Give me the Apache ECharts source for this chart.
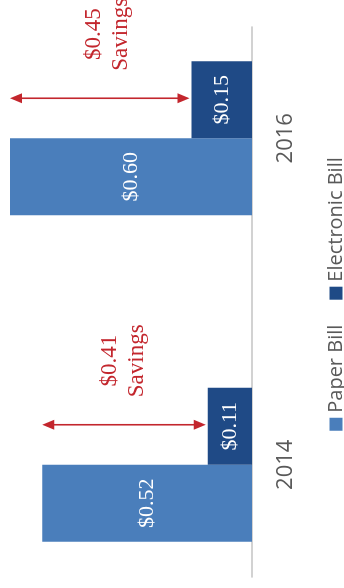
<!DOCTYPE html>
<html>
<head>
<meta charset="utf-8">
<script src="https://cdn.jsdelivr.net/npm/echarts@6/dist/echarts.min.js"></script>
<style>
  html, body { margin: 0; padding: 0; background: #fff; overflow: hidden; }
  #frame { position: relative; width: 344px; height: 588px; overflow: hidden; }
  /* The chart is laid out landscape and turned a quarter turn counter-clockwise */
  #chart {
    position: absolute; left: 0; top: 0;
    width: 588px; height: 344px;
    transform-origin: 0 0;
    transform: translateY(588px) rotate(-90deg);
  }
</style>
</head>
<body>
<div id="frame"><div id="chart"></div></div>
<script>
// Cost per bill, by year
const categories = ['2014', '2016'];
const paperBill = [0.52, 0.60];
const electronicBill = [0.11, 0.15];
const seriesNames = ['Paper Bill', 'Electronic Bill'];

const BAR_W = 77;
const RED = '#c3262d';
const SERIF = '"Liberation Serif", "DejaVu Serif", serif';
const SANS = '"Open Sans", "Noto Sans", sans-serif';

// Savings arrows: from the electronic cost up to the paper cost
const savings = categories.map((c, i) => [i, electronicBill[i], paperBill[i]]);

function money(v) { return '$' + Number(v).toFixed(2); }

function renderSavings(params, api) {
  const idx = api.value(0), lo = api.value(1), hi = api.value(2);
  const p0 = api.coord([idx, lo]);
  const p1 = api.coord([idx, hi]);
  const x = p0[0] + BAR_W / 2 + 1.5;
  const yBottom = p0[1] - 2;
  const yTop = p1[1];
  const head = 12, half = 5;
  return {
    type: 'group',
    children: [
      { type: 'line', shape: { x1: x, y1: yTop + head - 1, x2: x, y2: yBottom - head + 1 },
        style: { stroke: RED, lineWidth: 1.6 } },
      { type: 'polygon', shape: { points: [[x, yTop], [x - half, yTop + head], [x + half, yTop + head]] },
        style: { fill: RED } },
      { type: 'polygon', shape: { points: [[x, yBottom], [x - half, yBottom - head], [x + half, yBottom - head]] },
        style: { fill: RED } },
      { type: 'text',
        x: x + 64, y: p0[1] - 84,
        style: { text: money(hi - lo) + '\nSavings', align: 'center', verticalAlign: 'middle',
                 fill: RED, fontSize: 23, lineHeight: 27, fontFamily: SERIF } }
    ]
  };
}

const barLabel = {
  show: true, position: 'inside', color: '#ffffff',
  fontFamily: SERIF, fontSize: 22,
  formatter: p => money(p.value)
};

const chart = echarts.init(document.getElementById('chart'), null, { renderer: 'canvas' });
chart.setOption({
  animation: false,
  backgroundColor: '#ffffff',
  legend: {
    data: seriesNames,
    left: 'center', top: 326, padding: 0,
    icon: 'rect', itemWidth: 13, itemHeight: 13, itemGap: 25,
    textStyle: { color: '#595959', fontSize: 20, fontFamily: SANS }
  },
  grid: [
    { left: -40, width: 653, top: 10, bottom: 92, outerBoundsMode: 'none', containLabel: false },
    { left: 11, width: 550, top: 10, bottom: 92, outerBoundsMode: 'none', containLabel: false }
  ],
  xAxis: [
    { type: 'category', gridIndex: 0, data: categories,
      axisLine: { show: false }, axisTick: { show: false },
      axisLabel: { color: '#595959', fontSize: 22, fontFamily: SANS, margin: 23 } },
    { type: 'category', gridIndex: 1, data: categories,
      axisLine: { show: true, lineStyle: { color: '#c4c4c4', width: 1.6 } },
      axisTick: { show: false }, axisLabel: { show: false } }
  ],
  yAxis: [
    { type: 'value', gridIndex: 0, min: 0, max: 0.6, show: false, splitLine: { show: false } },
    { type: 'value', gridIndex: 1, min: 0, max: 0.6, show: false, splitLine: { show: false } }
  ],
  series: [
    { name: seriesNames[0], type: 'bar', data: paperBill, barWidth: BAR_W, barGap: '0%',
      itemStyle: { color: '#4a7ebb' }, label: barLabel },
    { name: seriesNames[1], type: 'bar', data: electronicBill, barWidth: BAR_W, barGap: '0%',
      itemStyle: { color: '#1f4a86' }, label: barLabel },
    { name: 'Savings', type: 'custom', data: savings, renderItem: renderSavings,
      encode: { x: 0, y: [1, 2] }, z: 5, silent: true }
  ]
});
</script>
</body>
</html>
